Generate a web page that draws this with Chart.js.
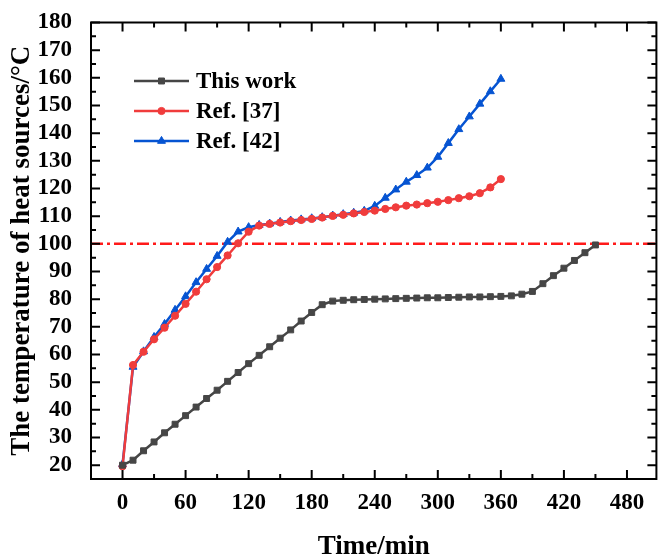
<!DOCTYPE html>
<html>
<head>
<meta charset="utf-8">
<script src="https://cdn.jsdelivr.net/npm/chart.js@4.4.1/dist/chart.umd.min.js"></script>
<style>
  html, body { margin: 0; padding: 0; background: #fff; }
  #wrap { width: 662px; height: 559px; }
</style>
</head>
<body>
<div id="wrap"><canvas id="tempChart" width="662" height="559"></canvas></div>
<script>
const times = [0, 10, 20, 30, 40, 50, 60, 70, 80, 90, 100, 110, 120, 130, 140, 150,
  160, 170, 180, 190, 200, 210, 220, 230, 240, 250, 260, 270, 280, 290, 300, 310,
  320, 330, 340, 350, 360, 370, 380, 390, 400, 410, 420, 430, 440, 450];

const thisWork = [20, 21.8, 25.2, 28.4, 31.7, 34.8, 37.9, 41.0, 44.1, 47.1, 50.3,
  53.5, 56.7, 59.7, 62.8, 65.9, 68.9, 72.1, 75.2, 78.0, 79.3, 79.6, 79.8, 79.9,
  80.0, 80.1, 80.2, 80.3, 80.4, 80.5, 80.5, 80.6, 80.7, 80.8, 80.8, 80.9, 81.0,
  81.2, 81.8, 82.8, 85.6, 88.5, 91.2, 94.0, 96.8, 99.6];

const ref37 = [19.6, 56.2, 61.0, 65.5, 69.7, 74.0, 78.3, 82.7, 87.2, 91.6, 95.8,
  100.2, 104.4, 106.6, 107.2, 107.7, 108.2, 108.6, 109.0, 109.5, 110.1, 110.5,
  111.0, 111.5, 112.0, 112.6, 113.2, 113.8, 114.2, 114.7, 115.2, 115.8, 116.5,
  117.2, 118.3, 120.4, 123.4];

const ref42 = [20.3, 55.5, 61.1, 66.3, 71.0, 76.1, 81.0, 86.1, 90.9, 95.6, 100.7,
  104.4, 106.0, 106.8, 107.3, 107.9, 108.4, 108.8, 109.2, 109.6, 110.2, 110.7,
  111.2, 111.9, 113.7, 116.6, 119.6, 122.4, 124.8, 127.5, 131.4, 136.4, 141.4,
  146.0, 150.6, 155.1, 159.6];

const xTicks = [0, 60, 120, 180, 240, 300, 360, 420, 480];
const yTicks = [20, 30, 40, 50, 60, 70, 80, 90, 100, 110, 120, 130, 140, 150, 160, 170, 180];
const limitTemp = 100;
const seriesNames = ["This work", "Ref. [37]", "Ref. [42]"];

const serif = "'Liberation Serif', 'Times New Roman', serif";

function toPoints(values) {
  return values.map((v, i) => ({ x: times[i], y: v }));
}

const seriesStyles = [
  { color: "#464646", pointStyle: "rect", radius: 4.2 },
  { color: "#f03c3c", pointStyle: "circle", radius: 3.6 },
  { color: "#0654d2", pointStyle: "triangle", radius: 4.6 },
];

// dash-dot line for the 100 °C limit
const limitLine = {
  id: "limitLine",
  beforeDatasetsDraw(chart) {
    const { ctx, chartArea } = chart;
    const yPix = chart.scales.y.getPixelForValue(limitTemp);
    ctx.save();
    ctx.strokeStyle = "#ff1a1a";
    ctx.lineWidth = 2.5;
    ctx.setLineDash([12, 4, 3, 4]);
    ctx.beginPath();
    ctx.moveTo(chartArea.left, yPix);
    ctx.lineTo(chartArea.right, yPix);
    ctx.stroke();
    ctx.restore();
  },
};

// box frame with inward ticks on all four sides
const frameTicks = {
  id: "frameTicks",
  afterDraw(chart) {
    const { ctx, chartArea } = chart;
    const { left, right, top, bottom } = chartArea;
    const xs = chart.scales.x;
    const ys = chart.scales.y;
    ctx.save();
    ctx.strokeStyle = "#000";
    ctx.lineWidth = 2;
    ctx.strokeRect(left, top, right - left, bottom - top);

    function tick(px, len, horiz) {
      ctx.beginPath();
      if (horiz) {
        ctx.moveTo(px, bottom); ctx.lineTo(px, bottom - len);
        ctx.moveTo(px, top); ctx.lineTo(px, top + len);
      } else {
        ctx.moveTo(left, px); ctx.lineTo(left + len, px);
        ctx.moveTo(right, px); ctx.lineTo(right - len, px);
      }
      ctx.stroke();
    }

    xTicks.forEach((v, i) => {
      tick(xs.getPixelForValue(v), 9, true);
      if (i < xTicks.length - 1) tick(xs.getPixelForValue((v + xTicks[i + 1]) / 2), 5, true);
    });
    yTicks.forEach((v, i) => {
      tick(ys.getPixelForValue(v), 9, false);
      if (i < yTicks.length - 1) tick(ys.getPixelForValue((v + yTicks[i + 1]) / 2), 5, false);
    });
    ctx.restore();
  },
};

const legendBox = {
  id: "legendBox",
  afterDraw(chart) {
    const { ctx } = chart;
    ctx.save();
    seriesNames.forEach((name, i) => {
      const st = seriesStyles[i];
      const yy = 81 + i * 30;
      ctx.strokeStyle = st.color;
      ctx.fillStyle = st.color;
      ctx.lineWidth = 2.5;
      ctx.beginPath();
      ctx.moveTo(134, yy);
      ctx.lineTo(189, yy);
      ctx.stroke();
      ctx.lineWidth = 1;
      Chart.helpers.drawPoint(ctx, {
        pointStyle: st.pointStyle, radius: st.radius, rotation: 0, borderWidth: 1,
      }, 161.5, yy);
      ctx.fillStyle = "#000";
      ctx.font = "bold 23px " + serif;
      ctx.textBaseline = "middle";
      ctx.textAlign = "left";
      ctx.fillText(name, 196, yy + 1);
    });
    ctx.restore();
  },
};

const ctx = document.getElementById("tempChart").getContext("2d");
const tempChart = new Chart(ctx, {
  type: "line",
  data: {
    datasets: [thisWork, ref37, ref42].map((vals, i) => ({
      label: seriesNames[i],
      data: toPoints(vals),
      borderColor: seriesStyles[i].color,
      backgroundColor: seriesStyles[i].color,
      pointStyle: seriesStyles[i].pointStyle,
      pointRadius: seriesStyles[i].radius,
      pointBorderWidth: 1,
      borderWidth: 2.5,
      tension: 0,
      fill: false,
    })),
  },
  options: {
    responsive: false,
    animation: false,
    layout: { padding: { top: 19, right: 2, left: 0, bottom: 0 } },
    scales: {
      x: {
        type: "linear",
        min: -30,
        max: 508,
        afterBuildTicks: (s) => { s.ticks = xTicks.map((v) => ({ value: v })); },
        afterFit: (s) => { s.height = 80; },
        grid: { display: false },
        border: { display: false },
        ticks: {
          color: "#000",
          padding: 2,
          maxRotation: 0,
          autoSkip: false,
          font: { family: serif, size: 23, weight: "bold" },
        },
        title: {
          display: true,
          text: "Time/min",
          color: "#000",
          padding: { top: 0, bottom: 0 },
          font: { family: serif, size: 27, weight: "bold", lineHeight: 0.9 },
        },
      },
      y: {
        min: 15,
        max: 180,
        afterBuildTicks: (s) => { s.ticks = yTicks.map((v) => ({ value: v })); },
        afterFit: (s) => { s.width = 91; },
        grid: { display: false },
        border: { display: false },
        ticks: {
          color: "#000",
          padding: 11,
          autoSkip: false,
          font: { family: serif, size: 23, weight: "bold", lineHeight: 1.0 },
        },
        title: {
          display: true,
          text: "The temperature of heat sources/°C",
          color: "#000",
          padding: { top: 6, bottom: 0 },
          font: { family: serif, size: 27, weight: "bold" },
        },
      },
    },
    plugins: {
      legend: { display: false },
      tooltip: { enabled: false },
    },
  },
  plugins: [limitLine, frameTicks, legendBox],
});
</script>
</body>
</html>
